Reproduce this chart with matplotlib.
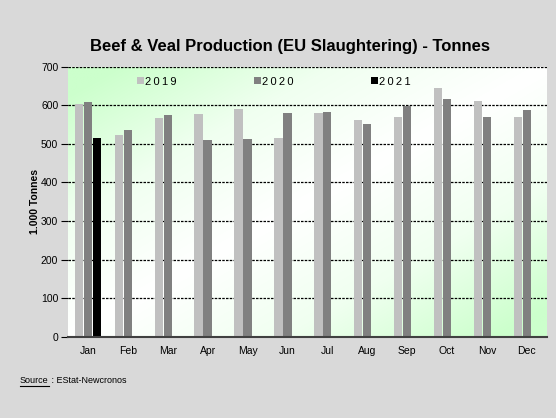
import numpy as np
import matplotlib
matplotlib.use("Agg")
import matplotlib.pyplot as plt
from matplotlib.colors import LinearSegmentedColormap
from matplotlib.lines import Line2D

plt.rcParams['font.family'] = ['Liberation Sans', 'DejaVu Sans']

months = ['Jan', 'Feb', 'Mar', 'Apr', 'May', 'Jun', 'Jul', 'Aug', 'Sep', 'Oct', 'Nov', 'Dec']
prod_2019 = [604, 524, 567, 578, 591, 515, 581, 562, 570, 644, 612, 570]
prod_2020 = [609, 537, 575, 510, 512, 581, 583, 552, 597, 617, 570, 589]
prod_2021 = [516]
years = ['2019', '2020', '2021']
colors = ['#c0c0c0', '#808080', '#000000']

fig = plt.figure(figsize=(5.56, 4.18), dpi=100)
fig.patch.set_facecolor('#d9d9d9')
ax = fig.add_axes([0.1223, 0.1945, 0.861, 0.6459])

# diagonal green-white-green background
u, v = np.meshgrid(np.linspace(0, 1, 200), np.linspace(1, 0, 200))
t = np.abs(u - v)
cmap = LinearSegmentedColormap.from_list('bg', ['#ffffff', '#f0fff0', '#ccffcc'])
ax.imshow(t, cmap=cmap, vmin=0, vmax=0.9, extent=[-0.5, 11.5, 0, 700],
          aspect='auto', zorder=0, interpolation='bilinear')

x = np.arange(len(months))
w = 0.21
off = 0.225
series = [prod_2019, prod_2020, prod_2021]
handles = []
for i, vals in enumerate(series):
    xs = x[:len(vals)] + (i - 1) * off
    b = ax.bar(xs, vals, width=w, color=colors[i], zorder=3, linewidth=0)
    handles.append(b)

ax.set_xlim(-0.5, 11.5)
ax.set_ylim(0, 700)
ax.set_yticks(range(0, 701, 100))
ax.set_xticks(x)
ax.set_xticklabels(months)
ax.tick_params(axis='x', length=0, pad=7, labelsize=7.5)
ax.tick_params(axis='y', length=5, width=0.8, pad=2, labelsize=7.5, direction='out')
for yv in range(100, 701, 100):
    ax.axhline(yv, color='#000000', lw=0.9, ls=(0, (2, 1)), zorder=2)
for s in ['top', 'right', 'left']:
    ax.spines[s].set_visible(False)
ax.spines['bottom'].set_color('#404040')
ax.spines['bottom'].set_linewidth(1.5)
ax.spines['bottom'].set_zorder(4)

ax.set_ylabel('1.000 Tonnes', fontsize=7.5, fontweight='bold')
ax.yaxis.set_label_coords(-0.059, 0.5)

leg = ax.legend(handles, ['\u2009'.join(y) for y in years], ncol=3, loc='upper center',
                bbox_to_anchor=(0.43, 1.0), frameon=False, fontsize=8,
                handlelength=0.6, handleheight=0.6, handletextpad=0.1,
                columnspacing=7.0)

fig.text(0.522, 0.889, 'Beef & Veal Production (EU Slaughtering) - Tonnes',
         ha='center', va='center', fontsize=12, fontweight='bold')

src = fig.text(0.036, 0.09, 'Source', fontsize=6.5, va='center')
fig.canvas.draw()
bb = src.get_window_extent().transformed(fig.transFigure.inverted())
fig.text(bb.x1, 0.09, ' : EStat-Newcronos', fontsize=6.5, va='center')
fig.add_artist(Line2D([bb.x0, bb.x1], [bb.y0 - 0.002, bb.y0 - 0.002], color='black', lw=0.8))

fig.savefig('out.png', dpi=100, facecolor=fig.get_facecolor())
